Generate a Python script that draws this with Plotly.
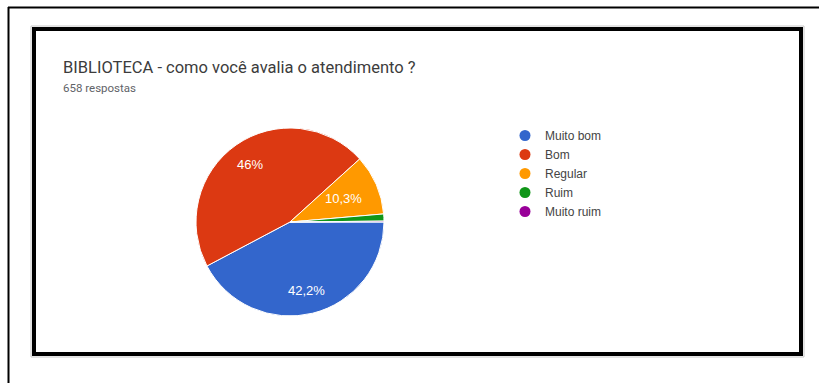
import math

import plotly.graph_objects as go

W, H = 819, 383

categories = ["Muito bom", "Bom", "Regular", "Ruim", "Muito ruim"]
responses = [278, 303, 68, 8, 1]
slice_labels = ["42,2%", "46%", "10,3%", "", ""]
colors = ["#3366cc", "#dc3912", "#ff9900", "#109618", "#990099"]

title_text = "BIBLIOTECA - como você avalia o atendimento ?"
subtitle_text = "658 respostas"

# pie box in pixels (left, top, right, bottom)
PIE_BOX = (196, 128, 384, 316)


def px_x(x):
    return x / W


def px_y(y):
    return 1 - y / H


fig = go.Figure()

fig.add_trace(
    go.Pie(
        labels=categories,
        values=responses,
        textinfo="none",
        marker={"colors": colors, "line": {"color": "white", "width": 1}},
        sort=False,
        direction="clockwise",
        rotation=90,
        showlegend=False,
        hoverinfo="label+value+percent",
        domain={"x": [px_x(PIE_BOX[0]), px_x(PIE_BOX[2])], "y": [px_y(PIE_BOX[3]), px_y(PIE_BOX[1])]},
    )
)

# legend with round markers like the Google Forms chart
for name, color in zip(categories, colors):
    fig.add_trace(
        go.Scatter(
            x=[None],
            y=[None],
            mode="markers",
            name=name,
            marker={"color": color, "size": 11, "symbol": "circle"},
            showlegend=True,
        )
    )

# percentage labels placed at slice mid-angles (google style, further out than plotly's)
cx = (PIE_BOX[0] + PIE_BOX[2]) / 2
cy = (PIE_BOX[1] + PIE_BOX[3]) / 2
radius = (PIE_BOX[2] - PIE_BOX[0]) / 2
total = sum(responses)
annotations = []
start = 90.0
for value, label in zip(responses, slice_labels):
    sweep = 360.0 * value / total
    mid = math.radians(start + sweep / 2)
    start += sweep
    if not label:
        continue
    r = radius * (0.75 if value / total > 0.2 else 0.62)
    annotations.append(
        dict(text=label, xref="paper", yref="paper",
             x=px_x(cx + r * math.sin(mid)), y=px_y(cy - r * math.cos(mid)),
             xanchor="center", yanchor="middle",
             showarrow=False, font={"family": "Liberation Sans", "size": 13, "color": "white"})
    )

shapes = [
    # outer page frame (top and left edges)
    dict(type="line", xref="paper", yref="paper", x0=px_x(8), x1=1, y0=px_y(7.5), y1=px_y(7.5),
         line={"color": "black", "width": 2}),
    dict(type="line", xref="paper", yref="paper", x0=px_x(8.5), x1=px_x(8.5), y0=px_y(7), y1=0,
         line={"color": "black", "width": 2}),
    # soft shadow of the card
    dict(type="rect", xref="paper", yref="paper", x0=px_x(31), x1=px_x(804), y0=px_y(357), y1=px_y(26),
         line={"color": "#c8c8c8", "width": 1}),
    # card border
    dict(type="rect", xref="paper", yref="paper", x0=px_x(34), x1=px_x(801), y0=px_y(354), y1=px_y(29),
         line={"color": "black", "width": 4}),
]

annotations += [
    dict(text=title_text, xref="paper", yref="paper", x=px_x(61), y=px_y(67), xanchor="left", yanchor="middle",
         showarrow=False, font={"family": "Roboto", "size": 16.5, "color": "#3c3c3c"}),
    dict(text=subtitle_text, xref="paper", yref="paper", x=px_x(61), y=px_y(88), xanchor="left", yanchor="middle",
         showarrow=False, font={"family": "Roboto", "size": 11.5, "color": "#5f6368"}),
]

fig.update_layout(
    width=W,
    height=H,
    margin={"l": 0, "r": 0, "t": 0, "b": 0},
    paper_bgcolor="white",
    plot_bgcolor="white",
    xaxis={"visible": False},
    yaxis={"visible": False},
    shapes=shapes,
    annotations=annotations,
    legend={
        "x": px_x(505),
        "y": px_y(121),
        "xanchor": "left",
        "yanchor": "top",
        "font": {"family": "Liberation Sans", "size": 12, "color": "#444444"},
        "bgcolor": "rgba(0,0,0,0)",
        "itemclick": False,
        "tracegroupgap": 0,
    },
)

fig.write_html(
    "out.html",
    config={"displayModeBar": False},
    post_script="document.body.style.margin='0';",
)
